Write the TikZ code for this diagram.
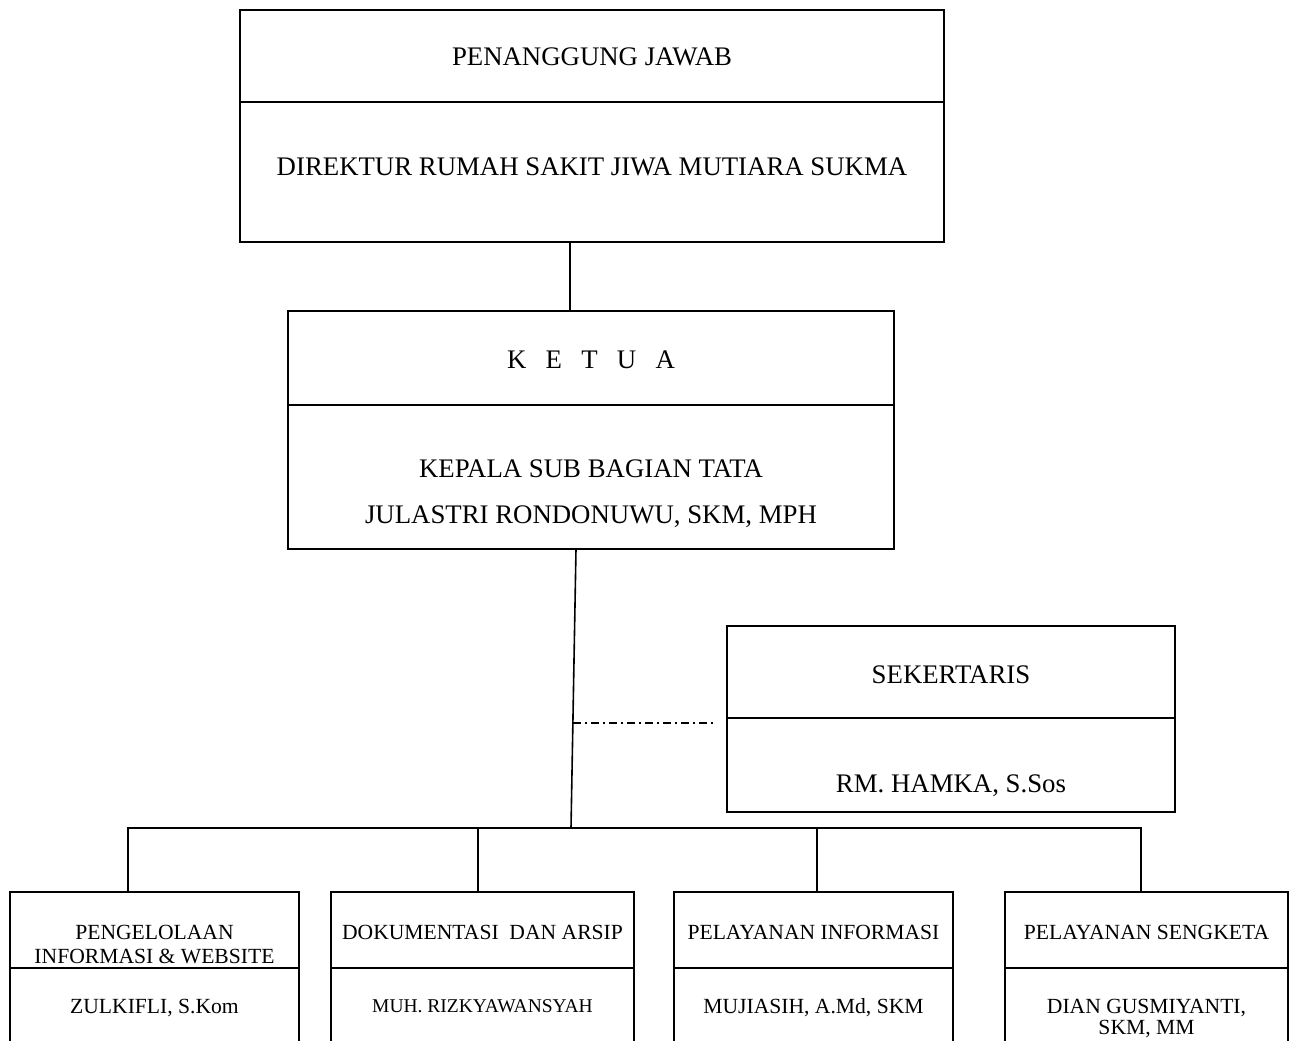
\documentclass[tikz,border=0pt]{standalone}
\usepackage{fontspec}
\setmainfont{Liberation Serif}
\usepackage{tikz}

\tikzset{
  kotak/.style={draw, line width=2pt, inner sep=0pt, outer sep=0pt, anchor=north west},
  teks/.style={anchor=base, align=center, inner sep=0pt, font=\fontsize{26.8}{46}\selectfont},
  tekskecil/.style={anchor=base, align=center, inner sep=0pt, font=\fontsize{21.6}{24}\selectfont},
  garis/.style={line width=1.6pt},
}

\begin{document}
\begin{tikzpicture}[x=1pt, y=-1pt]
\clip (0,0) rectangle (1296,1041);
\fill[white] (0,0) rectangle (1296,1041);

% penanggung jawab
\node[kotak, minimum width=704, minimum height=92] (pjA) at (240,10) {};
\node[kotak, minimum width=704, minimum height=140] (pjB) at (pjA.south west) {};
\node[teks] (pjT1) at (592,66) {PENANGGUNG JAWAB};
\node[teks] (pjT2) at (592,175) {DIREKTUR RUMAH SAKIT JIWA MUTIARA SUKMA};

% ketua
\node[kotak, minimum width=606, minimum height=94] (ktA) at (288,311) {};
\node[kotak, minimum width=606, minimum height=144] (ktB) at (ktA.south west) {};
\node[teks] (ktT1) at (591,368) {K\hspace{0.72em}E\hspace{0.72em}T\hspace{0.72em}U\hspace{0.72em}A};
\node[teks] (ktT2) at (591,523) {KEPALA SUB BAGIAN TATA\\JULASTRI RONDONUWU, SKM, MPH};

% sekertaris
\node[kotak, minimum width=448, minimum height=92] (skA) at (727,626) {};
\node[kotak, minimum width=448, minimum height=94] (skB) at (skA.south west) {};
\node[teks] (skT1) at (951,683) {SEKERTARIS};
\node[teks] (skT2) at (951,792) {RM. HAMKA, S.Sos};

% unit bawah
\node[kotak, minimum width=289, minimum height=76] (u1A) at (10,892) {};
\node[kotak, minimum width=289, minimum height=100] (u1B) at (u1A.south west) {};
\node[kotak, minimum width=303, minimum height=76] (u2A) at (331,892) {};
\node[kotak, minimum width=303, minimum height=100] (u2B) at (u2A.south west) {};
\node[kotak, minimum width=279, minimum height=76] (u3A) at (674,892) {};
\node[kotak, minimum width=279, minimum height=100] (u3B) at (u3A.south west) {};
\node[kotak, minimum width=283, minimum height=76] (u4A) at (1005,892) {};
\node[kotak, minimum width=283, minimum height=100] (u4B) at (u4A.south west) {};

\node[tekskecil] (u1T1) at (154.5,963) {PENGELOLAAN\\INFORMASI \& WEBSITE};
\node[tekskecil] (u1T2) at (154.5,1013) {ZULKIFLI, S.Kom};
\node[tekskecil] (u2T1) at (482.5,939) {DOKUMENTASI\ \ DAN ARSIP};
\node[tekskecil, font=\fontsize{19.5}{21}\selectfont] (u2T2) at (482.5,1012) {MUH. RIZKYAWANSYAH};
\node[tekskecil] (u3T1) at (813.5,939) {PELAYANAN INFORMASI};
\node[tekskecil] (u3T2) at (813.5,1013) {MUJIASIH, A.Md, SKM};
\node[tekskecil] (u4T1) at (1146.5,939) {PELAYANAN SENGKETA};
\node[tekskecil, font=\fontsize{21.6}{21}\selectfont] (u4T2) at (1146.5,1034) {DIAN GUSMIYANTI,\\SKM, MM};

% garis penghubung
\coordinate (bus) at (571,828);
\coordinate (dd1) at (573,723);
\coordinate (dd2) at (716,723);
\draw[garis] ([xshift=-22pt]pjB.south) -- ([xshift=-21pt]ktA.north);
\draw[garis] ([xshift=-15pt]ktB.south) -- (bus);
\draw[garis] ([xshift=-26.5pt]u1A.north) |- (bus) -| ([xshift=-5.5pt]u4A.north);
\draw[garis] ([xshift=-4.5pt]u2A.north) |- (bus);
\draw[garis] ([xshift=3.5pt]u3A.north) |- (bus);
\draw[line width=1.4pt, dash pattern=on 8pt off 4pt on 2pt off 4pt] (dd1) -- (dd2);
\end{tikzpicture}
\end{document}
